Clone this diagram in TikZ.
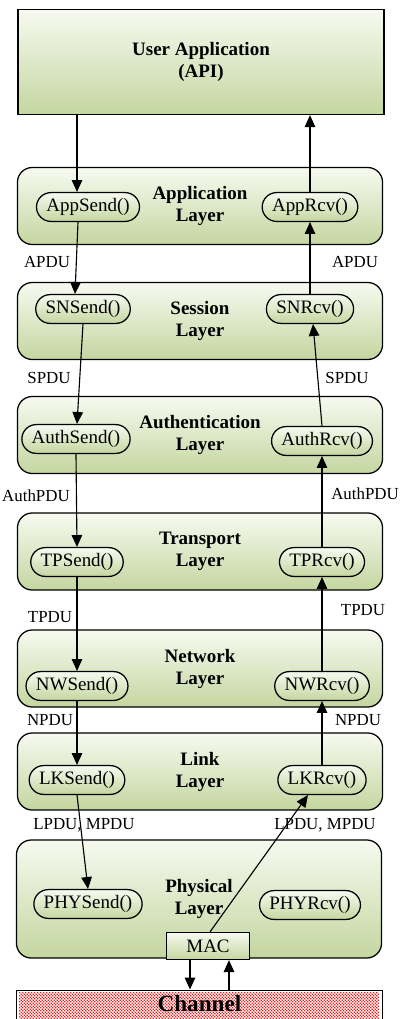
\documentclass[tikz,border=0pt]{standalone}
\usepackage{fontspec}
\setmainfont{Liberation Serif}
\usetikzlibrary{arrows.meta,positioning,calc}

\definecolor{leafhi}{RGB}{247,250,240}
\definecolor{leaflo}{RGB}{196,214,160}
\definecolor{speck}{RGB}{235,30,30}

\begin{document}
\begin{tikzpicture}[x=0.025cm,y=-0.025cm,
        every node/.style={font=\fontsize{13.5}{15.6}\selectfont},
        layer/.style={draw,line width=0.9pt,rounded corners=0.37cm,
            top color=leafhi,bottom color=leaflo,
            minimum width=9.125cm,minimum height=1.925cm,align=center,
            font=\fontsize{13.5}{15.6}\selectfont\bfseries},
        func/.style={draw,line width=0.9pt,rounded corners=0.36cm,
            top color=leafhi,bottom color=leaflo,
            minimum height=0.72cm,inner xsep=7pt,inner ysep=1pt},
        pdu/.style={font=\fontsize{12}{14}\selectfont},
        flow/.style={line width=0.8pt,-{Triangle[width=7.5pt,length=8.5pt]}}
    ]
    \useasboundingbox (0,0) rectangle (400,1019);

    % the stack
    \node[layer,sharp corners,minimum width=9.15cm,minimum height=2.625cm] (api) at (201,62) {User Application\\(API)};
    \node[layer] (app)  at (200,206)   {Application\\Layer};
    \node[layer] (ses)  at (200,321)   {Session\\Layer};
    \node[layer] (auth) at (200,435)   {Authentication\\Layer};
    \node[layer] (tp)   at (200,551.5) {Transport\\Layer};
    \node[layer] (nw)   at (200,668.5) {Network\\Layer};
    \node[layer] (lk)   at (200,771.5) {Link\\Layer};
    \node[layer,minimum height=2.95cm] (phy) at (199,899) {Physical\\Layer};

    % dotted medium
    \node[draw,line width=0.7pt,fill=white,
        minimum width=9.125cm,minimum height=0.85cm] (chan) at (199.5,1007) {};
    \fill[speck] \foreach \i in {19,22,...,378} {\foreach \j in {992,995,...,1016} {
        (\i,\j) rectangle ++(1.3,1.3) (\i+1.5,\j+1.5) rectangle ++(1.3,1.3)}};

    % send / receive calls
    \node[func] (appsend)  at (88,207)  {AppSend()};
    \node[func] (apprcv)   at (310,207) {AppRcv()};
    \node[func] (snsend)   at (83,309)  {SNSend()};
    \node[func] (snrcv)    at (310,309) {SNRcv()};
    \node[func] (authsend) at (76,439)  {AuthSend()};
    \node[func] (authrcv)  at (322,441) {AuthRcv()};
    \node[func] (tpsend)   at (77,562)  {TPSend()};
    \node[func] (tprcv)    at (322,562) {TPRcv()};
    \node[func] (nwsend)   at (77,686)  {NWSend()};
    \node[func] (nwrcv)    at (322,686) {NWRcv()};
    \node[func] (lksend)   at (77,780)  {LKSend()};
    \node[func] (lkrcv)    at (322,780) {LKRcv()};
    \node[func] (physend)  at (88,904)  {PHYSend()};
    \node[func] (phyrcv)   at (310,905) {PHYRcv()};

    \node[draw,line width=0.9pt,top color=leafhi,bottom color=leaflo,
        minimum width=2.075cm,minimum height=0.675cm] (mac) at (208,946) {MAC};

    % downward path
    \coordinate (a1) at ($(appsend.north)+(-11,0)$);
    \draw[flow] (a1 |- api.south) -- (a1);
    \draw[flow] ($(appsend.south)+(-10,0)$) -- ($(snsend.north)+(-8,0)$);
    \draw[flow] (snsend.south) -- ($(authsend.north)+(1,0)$);
    \draw[flow] (authsend.south) -- (tpsend.north);
    \draw[flow] (tpsend.south) -- (nwsend.north);
    \draw[flow] (nwsend.south) -- (lksend.north);
    \draw[flow] (lksend.south) -- (physend.north);

    % upward path
    \draw[flow] (apprcv.north) -- (apprcv.north |- api.south);
    \draw[flow] (snrcv.north) -- (apprcv.south);
    \draw[flow] (authrcv.north) -- ($(snrcv.south)+(3,0)$);
    \draw[flow] (tprcv.north) -- (authrcv.south);
    \draw[flow] (nwrcv.north) -- (tprcv.south);
    \draw[flow] (lkrcv.north) -- (nwrcv.south);
    \draw[flow] ($(mac.north)+(2,0)$) -- ($(lkrcv.south)+(-14,0)$);

    \coordinate (m1) at ($(mac.south)+(-18,0)$);
    \coordinate (m2) at ($(mac.south)+(21,0)$);
    \draw[flow] (m1) -- (m1 |- chan.north);
    \draw[flow] (m2 |- chan.north) -- (m2);

    % data units
    \node[pdu] (apdul)    at (47,262)  {APDU};
    \node[pdu] (apdur)    at (355,262) {APDU};
    \node[pdu] (spdul)    at (49,378)  {SPDU};
    \node[pdu] (spdur)    at (347,378) {SPDU};
    \node[pdu] (authpdul) at (36,496)  {AuthPDU};
    \node[pdu] (authpdur) at (365,494) {AuthPDU};
    \node[pdu] (tpdul)    at (50,617)  {TPDU};
    \node[pdu] (tpdur)    at (363,610) {TPDU};
    \node[pdu] (npdul)    at (50,720)  {NPDU};
    \node[pdu] (npdur)    at (358,720) {NPDU};
    \node[pdu] (lpdul)    at (84,825)  {LPDU, MPDU};
    \node[pdu] (lpdur)    at (325,825) {LPDU, MPDU};

    \node[font=\fontsize{16.5}{18}\selectfont\bfseries] (chantext) at ($(chan)+(0,-3)$) {Channel};
\end{tikzpicture}
\end{document}
